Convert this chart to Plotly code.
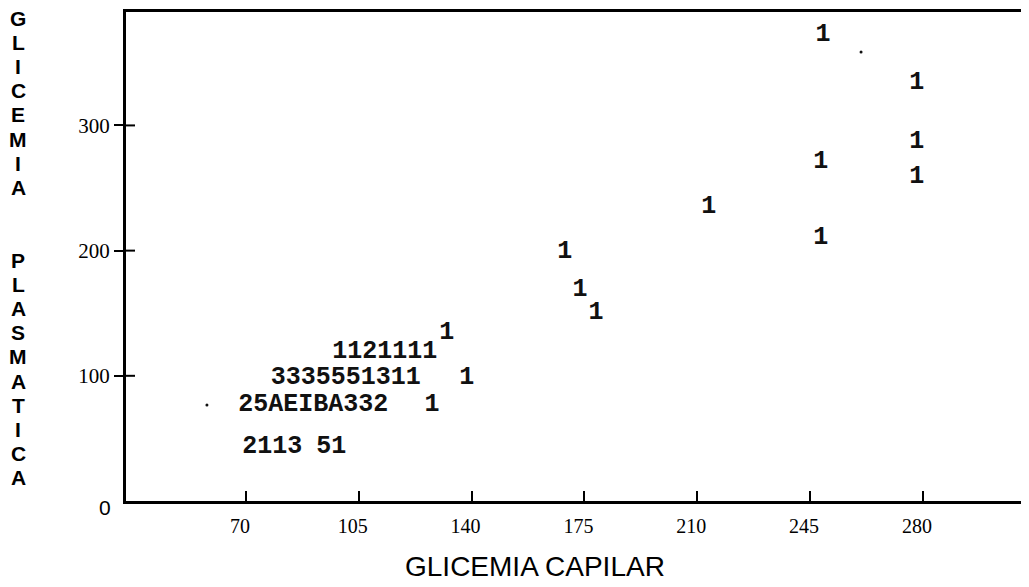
import plotly.graph_objects as go

# Printer-plot symbols (count codes)
sym_x = [249.0, 278.1, 278.1, 248.3, 278.1, 213.6, 248.3, 168.9, 173.6, 178.6,
         132.3, 113.1, 101.0, 138.5, 90.9, 127.7, 78.2, 96.5]
sym_y = [372.2, 333.9, 286.7, 270.8, 258.8, 234.8, 210.1, 198.9, 168.5, 150.2,
         134.2, 119.0, 98.2, 98.2, 76.7, 76.7, 43.1, 43.1]
sym_text = ["1", "1", "1", "1", "1", "1", "1", "1", "1", "1",
            "1", "1121111", "3335551311", "1", "25AEIBA332", "1", "2113", "51"]

# stray specks on the scan
dot_x = [260.8, 57.9]
dot_y = [358.6, 76.7]

x_ticks = [70, 105, 140, 175, 210, 245, 280]
y_ticks = [100, 200, 300]

x_title = "GLICEMIA CAPILAR"
y_title = "GLICEMIA  PLASMATICA"

# page body has an 8px margin; plot area is 903 x 489 px
PLOT_W, PLOT_H = 903, 489

fig = go.Figure()
fig.add_trace(go.Scatter(
    x=sym_x, y=sym_y, text=sym_text, mode="text",
    textposition="middle center",
    textfont=dict(family="Liberation Mono", size=25, color="#111111", weight="bold"),
    hoverinfo="skip", showlegend=False))
fig.add_trace(go.Scatter(
    x=dot_x, y=dot_y, mode="markers",
    marker=dict(size=3, color="#111111"),
    hoverinfo="skip", showlegend=False))

# y ticks crossing the axis (inside part)
shapes = []
for v in y_ticks:
    shapes.append(dict(type="line", xref="paper", yref="y", x0=0, x1=9 / PLOT_W,
                       y0=v, y1=v, line=dict(color="black", width=2)))

annotations = []
# vertical stacked y title, one letter per printed line
letters = []
for word_i, word in enumerate(y_title.split()):
    if word_i > 0:
        letters += [" ", " "]
    letters += list(word)
for i, ch in enumerate(letters):
    if ch == " ":
        continue
    py = 18 + 24.2 * i
    annotations.append(dict(
        text=ch, xref="paper", yref="paper",
        x=(18 - 126) / PLOT_W, y=(501 - py) / PLOT_H,
        xanchor="center", yanchor="middle", showarrow=False,
        font=dict(family="Liberation Sans", size=21, color="black", weight="bold")))

annotations += [
    dict(text=x_title, xref="paper", yref="paper", x=(535 - 126) / PLOT_W,
         y=(501 - 566) / PLOT_H, xanchor="center", yanchor="middle", showarrow=False,
         font=dict(family="Liberation Sans", size=28, color="black")),
    dict(text="0", xref="paper", yref="y", x=0, y=0, xanchor="right",
         yanchor="middle", xshift=-13, yshift=-6, showarrow=False,
         font=dict(family="Liberation Sans", size=21, color="black")),
]

fig.update_layout(
    width=1021, height=579,
    margin=dict(l=118, r=0, t=4, b=86),
    paper_bgcolor="white", plot_bgcolor="white",
    shapes=shapes, annotations=annotations,
    xaxis=dict(range=[32.8, 312.9], tickvals=x_ticks, ticks="inside",
               ticklen=10, tickwidth=2, tickcolor="black",
               showline=True, linewidth=3, linecolor="black", mirror=True,
               showgrid=False, zeroline=False,
               ticklabelstandoff=5, ticklabelshift=-6,
               tickfont=dict(family="Liberation Serif", size=20, color="black")),
    yaxis=dict(range=[0, 390.6], tickvals=y_ticks, ticks="outside",
               ticklen=9, tickwidth=2, tickcolor="black",
               showline=True, linewidth=3, linecolor="black", mirror=False,
               showgrid=False, zeroline=False, ticklabelstandoff=0,
               tickfont=dict(family="Liberation Serif", size=21, color="black")),
)

fig.write_html("out.html")
